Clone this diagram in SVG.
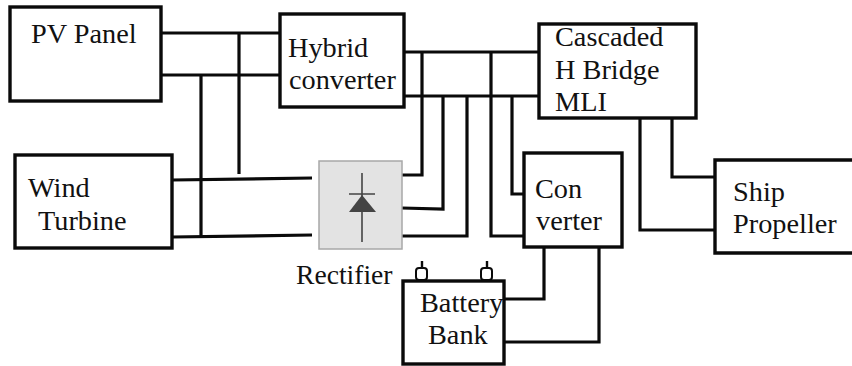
<svg xmlns="http://www.w3.org/2000/svg" width="852" height="366" viewBox="0 0 852 366">
<style>
.box{fill:#fff;stroke:#0a0a0a;stroke-width:3.4}
.w{fill:none;stroke:#0a0a0a;stroke-width:3.2}
.t{font-family:"Liberation Serif","Times New Roman",serif;font-size:28.3px;fill:#111}
</style>
<rect width="852" height="366" fill="#fff"/>
<g id="connectors">
<path class="w" d="M161 33H280M161 75H280M239 33V174M201 75V236"/>
<path class="w" d="M172 180L312 178M172 237L312 235"/>
<path class="w" d="M404 52H539M404 96H539"/>
<path class="w" d="M402 175H422V52M402 208L443 209V96M402 236H467V96M491 52V236H524M512 96V194H524"/>
<path class="w" d="M640 118V230H715M672 118V177H715"/>
<path class="w" d="M544 247V299H504M599 247V342H504"/>
</g>
<g id="pv-panel"><rect class="box" x="10" y="7" width="151" height="94"/><text class="t" x="31" y="43">PV Panel</text></g>
<g id="hybrid-converter"><rect class="box" x="280" y="14" width="124" height="93"/><text class="t" x="288" y="57">Hybrid</text><text class="t" x="289" y="89">converter</text></g>
<g id="wind-turbine"><rect class="box" x="15" y="155" width="157" height="93"/><text class="t" x="28" y="197">Wind</text><text class="t" x="38" y="230">Turbine</text></g>
<g id="cascaded-mli"><rect class="box" x="539" y="24" width="157" height="94"/><text class="t" x="555" y="46">Cascaded</text><text class="t" x="555" y="79">H Bridge</text><text class="t" x="555" y="111">MLI</text></g>
<g id="ship-propeller"><path class="box" d="M853 160H715V253H853"/><text class="t" x="733" y="201">Ship</text><text class="t" x="733" y="233">Propeller</text></g>
<g id="converter"><rect class="box" x="524" y="153" width="98" height="94"/><text class="t" x="535" y="198">Con</text><text class="t" x="536" y="230">verter</text></g>
<g id="rectifier"><rect x="319" y="161" width="83" height="88" fill="#e3e3e3" stroke="#a8a8a8" stroke-width="1.5"/>
<path d="M362 173V242M349 194H375" fill="none" stroke="#444" stroke-width="1.6"/><path d="M362 195L349 212H376Z" fill="#444"/>
<text class="t" x="296" y="284" style="font-size:27.6px">Rectifier</text></g>
<g id="battery-bank"><path d="M422 261V268M487 261V268" stroke="#0a0a0a" stroke-width="2.4" fill="none"/>
<rect x="416" y="268" width="11" height="12" rx="3" fill="#fff" stroke="#0a0a0a" stroke-width="2"/><rect x="481" y="268" width="11" height="12" rx="3" fill="#fff" stroke="#0a0a0a" stroke-width="2"/>
<rect class="box" x="403" y="281" width="101" height="83"/><text class="t" x="420" y="312">Battery</text><text class="t" x="428" y="344">Bank</text></g>
</svg>
